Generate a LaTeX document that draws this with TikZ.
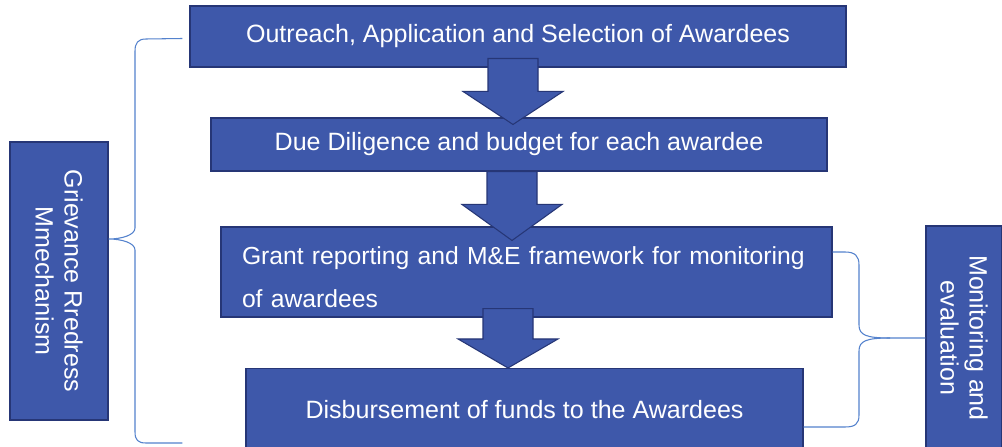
\documentclass[tikz,border=0pt]{standalone}
\usepackage{fontspec}
\setmainfont{Liberation Sans}
\usetikzlibrary{calc}

\definecolor{boxblue}{RGB}{62,88,170}
\definecolor{boxedge}{RGB}{38,54,118}
\definecolor{bracketblue}{RGB}{84,130,205}

\begin{document}
\begin{tikzpicture}[x=0.2mm,y=-0.2mm,
  stage/.style={draw=boxedge,fill=boxblue,text=white,line width=0.6pt,inner sep=0pt,
    font=\fontsize{14.25}{24}\selectfont},
  sidebox/.style={stage,rotate=-90,align=center,font=\fontsize{14.25}{16.5}\selectfont},
  blockarrow/.style={draw=boxedge,fill=boxblue,line width=0.6pt,line join=miter},
  bracket/.style={draw=bracketblue,line width=0.6pt}]

\useasboundingbox[fill=white] (0,0) rectangle (1002,447);

% steps
\node[stage,minimum width=13.12cm,minimum height=1.22cm] (outreach) at (518,36.5)
  {Outreach, Application and Selection of Awardees};
\node[stage,minimum width=12.32cm,minimum height=1.06cm] (diligence) at (519,144.5)
  {Due Diligence and budget for each awardee};
\node[stage,minimum width=12.22cm,minimum height=1.8cm,text width=11.38cm,align=left,
  font=\fontsize{14.05}{24.5}\selectfont] (grant) at (526.5,272)
  {\rule{0pt}{16pt}\mbox{Grant reporting and M\&E framework for monitoring}\\of awardees};
\node[stage,minimum width=11.14cm,minimum height=1.66cm] (disburse) at (524.5,410)
  {Disbursement of funds to the Awardees};

% side boxes
\node[sidebox,minimum width=5.56cm,minimum height=1.96cm] (grievance) at (59,281)
  {Grievance Rredress\\Mmechanism};
\node[sidebox,minimum width=4.48cm,minimum height=1.52cm] (monitoring) at (964,338)
  {Monitoring and\\evaluation};

% block arrows
\foreach \a/\b/\x/\s/\t/\h in {outreach/diligence/513/9/7/33,diligence/grant/512/0/14/36,grant/disburse/508/9/0/29} {
  \coordinate (ax) at (\x,0);
  \draw[blockarrow] ($(ax |- \a.south)+(-25,-\s)$) -- ($(ax |- \a.south)+(25,-\s)$)
    -- ($(ax |- \b.north)+(25,\t-\h)$) -- ($(ax |- \b.north)+(50,\t-\h)$)
    -- ($(ax |- \b.north)+(0,\t)$)
    -- ($(ax |- \b.north)+(-50,\t-\h)$) -- ($(ax |- \b.north)+(-25,\t-\h)$) -- cycle;
}

% brackets
\draw[bracket] ($(outreach.west)+(-7,2)$) -- (146,39) .. controls (138,39) and (135,43) .. (135,51)
  -- (135,228) .. controls (135,235) and (122,239) .. ($(grievance.north)+(0,-42)$)
  .. controls (122,239) and (135,243) .. (135,250) -- (135,432)
  .. controls (135,440) and (138,443) .. (146,443) -- ($(disburse.west)+(-63,33)$);
\draw[bracket] (monitoring.south) -- (890,338) .. controls (866,338) and (859,335) .. (859,325)
  -- (859,265) .. controls (859,256) and (855,252) .. (845,252) -- ($(grant.east)+(0,-20)$);
\draw[bracket] (890,338) .. controls (866,338) and (859,341) .. (859,351)
  -- (859,415) .. controls (859,424) and (855,427) .. (845,427) -- ($(disburse.east)+(0,17)$);

\end{tikzpicture}
\end{document}
